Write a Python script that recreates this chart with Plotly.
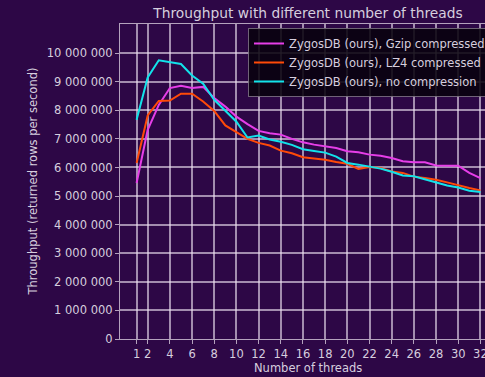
import plotly.graph_objects as go

threads = list(range(1, 33))

gzip_vals = [5.46, 7.32, 8.19, 8.78, 8.86, 8.78, 8.82, 8.43, 8.13, 7.78, 7.52, 7.28,
             7.20, 7.15, 7.00, 6.88, 6.80, 6.74, 6.68, 6.57, 6.53, 6.45, 6.41, 6.33,
             6.22, 6.18, 6.18, 6.07, 6.06, 6.06, 5.81, 5.63]
lz4_vals = [6.16, 7.82, 8.33, 8.34, 8.58, 8.58, 8.31, 7.98, 7.47, 7.22, 7.00, 6.86,
            6.77, 6.59, 6.50, 6.36, 6.31, 6.27, 6.19, 6.13, 5.95, 6.02, 5.98, 5.86,
            5.81, 5.68, 5.63, 5.57, 5.48, 5.37, 5.28, 5.20]
none_vals = [7.67, 9.15, 9.75, 9.68, 9.62, 9.22, 8.93, 8.37, 7.98, 7.60, 7.05, 7.12,
             6.98, 6.90, 6.79, 6.64, 6.58, 6.52, 6.38, 6.16, 6.10, 6.04, 5.96, 5.85,
             5.72, 5.69, 5.58, 5.48, 5.37, 5.30, 5.19, 5.14]

series_names = ["ZygosDB (ours), Gzip compressed",
                "ZygosDB (ours), LZ4 compressed",
                "ZygosDB (ours), no compression"]
series_colors = ["#e63ee8", "#ff4a08", "#12e2ea"]

x_tickvals = [1, 2, 4, 6, 8, 10, 12, 14, 16, 18, 20, 22, 24, 26, 28, 30, 32]
y_tickvals = [i * 1_000_000 for i in range(11)]
y_ticktext = ["0", "1 000 000", "2 000 000", "3 000 000", "4 000 000", "5 000 000",
              "6 000 000", "7 000 000", "8 000 000", "9 000 000", "10 000 000"]

title_text = "Throughput with different number of threads"
x_title = "Number of threads"
y_title = "Throughput (returned rows per second)"

BG = "#2d0746"
TXT = "#d6cede"
GRID = "rgba(235,225,240,0.62)"
SPINE = "rgba(225,215,230,0.75)"
FONT = "DejaVu Sans"

W, H = 485, 377
L, R, T, B = 120, 0, 24, 37.5
pw = W - L - R
ph = H - T - B

def px_x(p):
    return (p - L) / pw

def px_y(p):
    return (H - B - p) / ph

fig = go.Figure()
for vals, name, col in zip([gzip_vals, lz4_vals, none_vals], series_names, series_colors):
    fig.add_trace(go.Scatter(
        x=threads, y=[v * 1_000_000 for v in vals], mode="lines", name=name,
        line=dict(color=col, width=2)))

fig.update_layout(
    width=W, height=H,
    margin=dict(l=L, r=R, t=T, b=B, autoexpand=False),
    paper_bgcolor=BG, plot_bgcolor=BG,
    font=dict(family=FONT, color=TXT, size=11.5),
    title=dict(text=title_text, x=px_x(308), xref="paper", xanchor="center",
               y=1 - 13 / H, yref="container", yanchor="middle",
               font=dict(size=13.8, color=TXT, family=FONT)),
    showlegend=True,
    legend=dict(x=px_x(248), y=px_y(28), xanchor="left", yanchor="top",
                bgcolor="rgba(8,2,14,0.88)", bordercolor="rgba(120,110,125,0.9)",
                borderwidth=1, font=dict(size=11.5, color=TXT, family=FONT),
                tracegroupgap=0),
    xaxis=dict(range=[-0.497, 2 + (W - 147.7) / 11.09],
               tickmode="array", tickvals=x_tickvals, ticktext=[str(v) for v in x_tickvals],
               showgrid=True, gridcolor=GRID, gridwidth=1.5,
               showline=True, linecolor=SPINE, linewidth=1.2, mirror=True,
               ticks="outside", ticklen=4, tickcolor=SPINE, zeroline=False,
               ticklabeloverflow="allow",
               tickfont=dict(size=11.5, color=TXT)),
    yaxis=dict(range=[0, 11.02e6],
               tickmode="array", tickvals=y_tickvals, ticktext=y_ticktext,
               showgrid=True, gridcolor=GRID, gridwidth=1.5,
               showline=True, linecolor=SPINE, linewidth=1.2,
               ticks="outside", ticklen=4, tickcolor=SPINE, zeroline=False,
               tickfont=dict(size=11.5, color=TXT)),
    annotations=[
        dict(text=x_title, xref="paper", yref="paper", x=px_x(308), y=px_y(369),
             xanchor="center", yanchor="middle", showarrow=False,
             font=dict(size=11.5, color=TXT, family=FONT)),
        dict(text=y_title, xref="paper", yref="paper", x=px_x(32), y=0.5,
             xanchor="center", yanchor="middle", showarrow=False, textangle=-90,
             font=dict(size=11.5, color=TXT, family=FONT)),
    ],
)

fig.write_html(
    "out.html",
    config={"displayModeBar": False},
    post_script="document.body.style.margin='0';document.body.style.padding='0';"
                "document.body.style.overflow='hidden';"
                "document.documentElement.style.overflow='hidden';",
)
